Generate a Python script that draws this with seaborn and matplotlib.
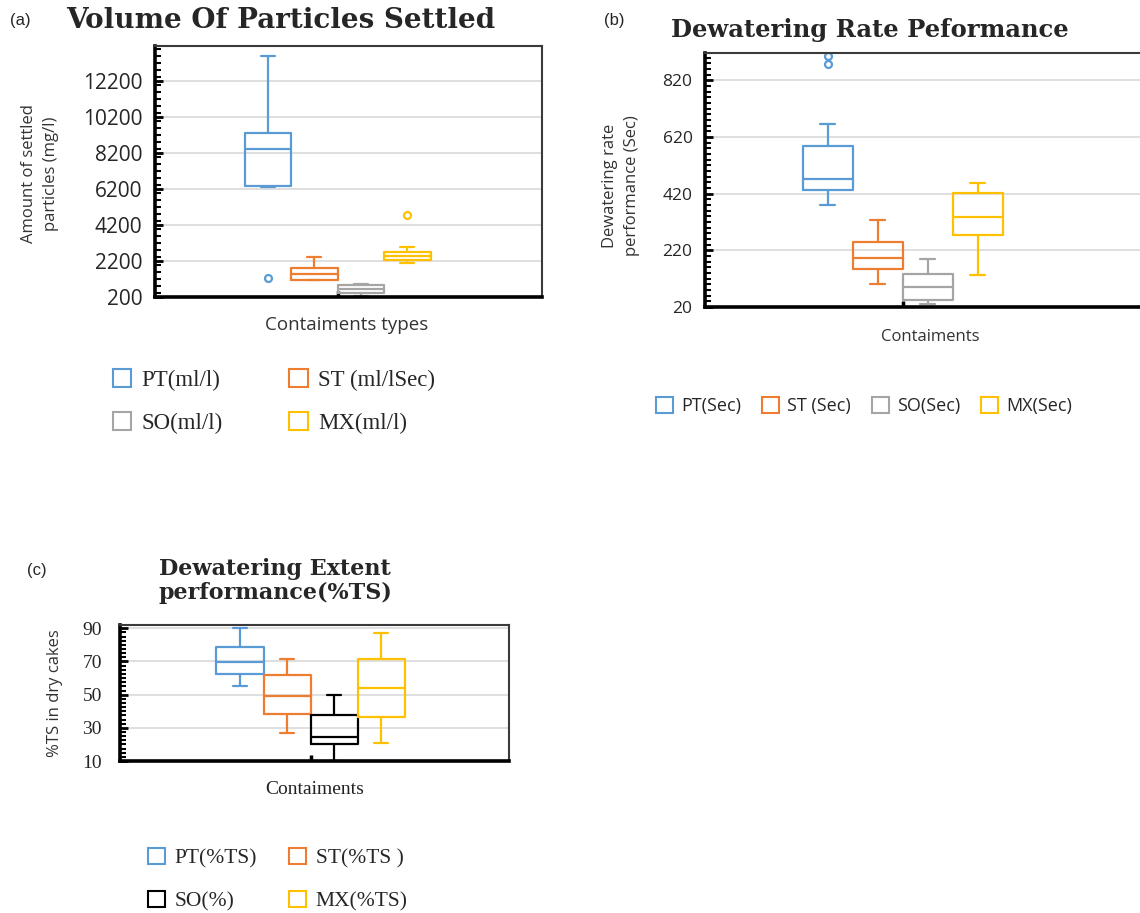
import matplotlib
matplotlib.use("Agg")
import matplotlib.pyplot as plt
from matplotlib.ticker import FixedLocator, MultipleLocator
import pandas as pd
import seaborn as sns

W, H = 1140, 913

EXCEL = ["#5B9BD5", "#ED7D31", "#A5A5A5", "#FFC000"]
EXCEL_C = ["#5B9BD5", "#ED7D31", "#000000", "#FFC000"]

# (a) volume of particles settled (mg/l)
LABELS_A = ["PT(ml/l)", "ST (ml/lSec)", "SO(ml/l)", "MX(ml/l)"]
PT_A = [1280, 6300, 6340, 6380, 7200, 7900, 8440, 8800, 9100, 9330, 10900, 12300, 13590]
ST_A = [1150, 1160, 1170, 1320, 1470, 1600, 1785, 2050, 2400]
SO_A = [273, 350, 424, 540, 648, 760, 872, 910, 945]
MX_A = [2105, 2180, 2220, 2256, 2330, 2400, 2480, 2560, 2640, 2704, 2850, 3000, 4740]
YTICKS_A = [200, 2200, 4200, 6200, 8200, 10200, 12200]

# (b) dewatering rate (sec)
LABELS_B = ["PT(Sec)", "ST (Sec)", "SO(Sec)", "MX(Sec)"]
PT_B = [379, 400, 420, 434, 445, 460, 473, 510, 550, 588, 667, 876, 905]
ST_B = [100, 130, 154, 175, 193, 220, 249, 290, 326]
SO_B = [30, 38, 44, 70, 91, 115, 138, 165, 191]
MX_B = [132, 210, 273, 305, 338, 380, 422, 440, 456]
YTICKS_B = [20, 220, 420, 620, 820]

# (c) dewatering extent (%TS)
LABELS_C = ["PT(%TS)", "ST(%TS )", "SO(%)", "MX(%TS)"]
PT_C = [55, 59, 62.5, 66, 69.5, 74, 79, 85, 90]
ST_C = [27, 33, 38.6, 44, 49, 55, 61.6, 67, 71.4]
SO_C = [10, 15, 20.2, 22.5, 24.6, 31, 37.6, 44, 49.6]
MX_C = [20.6, 28, 36.6, 45, 54.2, 63, 71.2, 79, 87]
YTICKS_C = [10, 30, 50, 70, 90]

SANS = "Open Sans"
SERIF = "Liberation Serif"
TITLE = "DejaVu Serif"

sns.set_style("white")
plt.rcParams["font.family"] = [SANS, "DejaVu Sans"]


def long_frame(labels, groups):
    rows = []
    for lab, vals in zip(labels, groups):
        rows += [("all", lab, v) for v in vals]
    return pd.DataFrame(rows, columns=["group", "type", "value"])


def px_rect(left, top, right, bottom):
    return [left / W, 1 - bottom / H, (right - left) / W, (bottom - top) / H]


fig = plt.figure(figsize=(W / 100, H / 100), dpi=100)


def panel(rect, df, palette, width, xlim, ylim, yticks, minor, tick_font, tick_size, tick_pad):
    ax = fig.add_axes(rect)
    sns.boxplot(data=df, x="group", y="value", hue="type", palette=palette, fill=False,
                width=width, gap=0, linewidth=1.6, whis=1.5, fliersize=5,
                flierprops={"marker": "o", "markerfacecolor": "none", "markeredgewidth": 1.6},
                capwidths=width / 4 * 0.3, ax=ax)
    ax.set_xlim(*xlim)
    ax.set_ylim(*ylim)
    ax.yaxis.set_major_locator(FixedLocator(yticks))
    ax.yaxis.set_minor_locator(MultipleLocator(minor))
    ax.set_xticks([0])
    ax.tick_params(axis="x", direction="in", length=4, width=2.5, bottom=True,
                   labelbottom=False, color="black")
    ax.tick_params(axis="y", which="major", direction="in", length=6, width=2, left=True,
                   color="black", pad=tick_pad, labelsize=tick_size)
    ax.tick_params(axis="y", which="minor", direction="in", length=4, width=1.5, left=True,
                   color="black")
    for lab in ax.get_yticklabels():
        lab.set_fontfamily(tick_font)
    for s in ["left", "bottom"]:
        ax.spines[s].set_linewidth(2.6)
        ax.spines[s].set_color("black")
    for s in ["top", "right"]:
        ax.spines[s].set_linewidth(1.5)
        ax.spines[s].set_color("#3a3a3a")
    ax.yaxis.grid(True, color="#d9d9d9", linewidth=1.2)
    ax.set_axisbelow(True)
    ax.set_xlabel("")
    ax.set_ylabel("")
    return ax


def legend(ax, order, anchor, ncol, font, size, labelspacing, columnspacing, hsize=0.85):
    old = ax.get_legend()
    handles = old.legend_handles
    texts = [t.get_text() for t in old.get_texts()]
    old.remove()
    leg = ax.legend([handles[i] for i in order], [texts[i] for i in order], loc="upper left",
                    bbox_to_anchor=(anchor[0] / W, 1 - anchor[1] / H), bbox_transform=fig.transFigure,
                    ncol=ncol, frameon=False, prop={"family": font, "size": size},
                    handlelength=hsize, handleheight=hsize, handletextpad=0.45,
                    labelspacing=labelspacing, columnspacing=columnspacing,
                    borderaxespad=0, borderpad=0)
    for h in leg.legend_handles:
        h.set_linewidth(1.5)
    return leg


# panel (a)
ax_a = panel(px_rect(155, 46, 542, 297), long_frame(LABELS_A, [PT_A, ST_A, SO_A, MX_A]), EXCEL,
             0.48, (-0.472, 0.528), (200, 14150), YTICKS_A, 400, SANS, 15, 9)
legend(ax_a, [0, 2, 1, 3], (113, 369), 2, SERIF, 16.5, 0.95, 2.9, hsize=0.8)
fig.text(10 / W, 1 - 20 / H, "(a)", fontsize=12, family="Liberation Sans", va="center")
fig.text(281 / W, 1 - 20 / H, "Volume Of Particles Settled", fontsize=20, family=TITLE,
         weight="bold", ha="center", va="center")
fig.text(40 / W, 1 - 174 / H, "Amount of settled\nparticles (mg/l)", fontsize=12, rotation=90,
         ha="center", va="center", linespacing=1.45, color="#333333")
fig.text(347 / W, 1 - 325 / H, "Contaiments types", fontsize=13.5, ha="center", va="center",
         color="#333333")

# panel (b) -- axes run past the right edge of the figure, as in the source
ax_b = panel(px_rect(705, 53, 1150, 307), long_frame(LABELS_B, [PT_B, ST_B, SO_B, MX_B]), EXCEL,
             0.505, (-0.5, 0.624), (20, 916), YTICKS_B, 20, SANS, 12.5, 9)
legend(ax_b, [0, 1, 2, 3], (656, 397), 4, SANS, 13, 0.5, 1.15, hsize=0.95)
fig.text(604 / W, 1 - 20 / H, "(b)", fontsize=12, family="Liberation Sans", va="center")
fig.text(870 / W, 1 - 30 / H, "Dewatering Rate Peformance", fontsize=17.5, family=TITLE,
         weight="bold", ha="center", va="center")
fig.text(621 / W, 1 - 186 / H, "Dewatering rate\nperformance (Sec)", fontsize=12, rotation=90,
         ha="center", va="center", linespacing=1.45, color="#333333")
fig.text(930 / W, 1 - 337 / H, "Contaiments", fontsize=12, ha="center", va="center", color="#333333")

# panel (c)
ax_c = panel(px_rect(120, 625, 509, 761), long_frame(LABELS_C, [PT_C, ST_C, SO_C, MX_C]), EXCEL_C,
             0.484, (-0.49, 0.51), (10, 92), YTICKS_C, 2.5, SERIF, 14, 13)
legend(ax_c, [0, 2, 1, 3], (148, 848), 2, SERIF, 15.5, 1.03, 1.45, hsize=0.8)
fig.text(27 / W, 1 - 571 / H, "(c)", fontsize=12, family="Liberation Sans", va="center")
fig.text(275 / W, 1 - 581 / H, "Dewatering Extent\nperformance(%TS)", fontsize=16, family=TITLE,
         weight="bold", ha="center", va="center", linespacing=1.1)
fig.text(55 / W, 1 - 693 / H, "%TS in dry cakes", fontsize=12, rotation=90, ha="center",
         va="center", color="#333333")
fig.text(315 / W, 1 - 790 / H, "Contaiments", fontsize=14, family=SERIF, ha="center", va="center",
         color="#222222")

fig.savefig("out.png", dpi=100)
